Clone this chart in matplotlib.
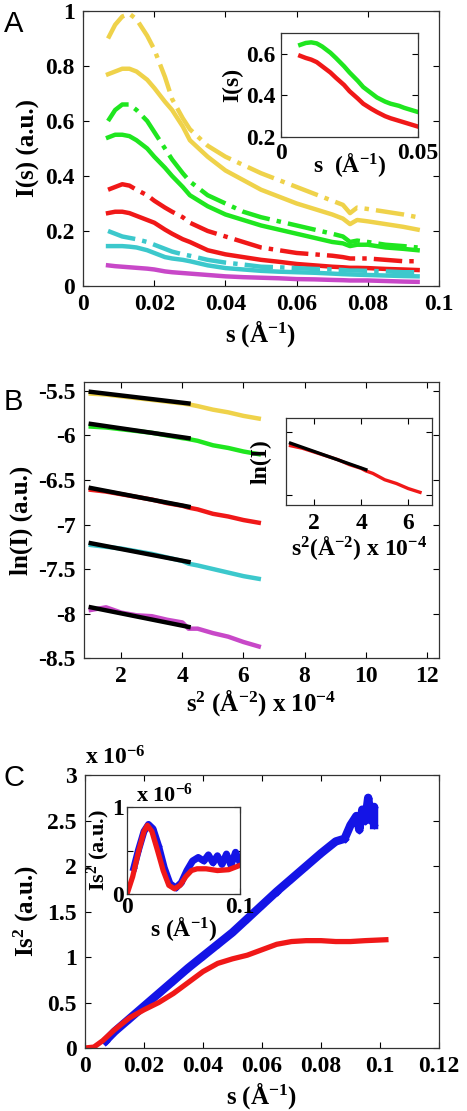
import numpy as np
import matplotlib
matplotlib.use("Agg")
from matplotlib import pyplot as plt

plt.rcParams['font.family'] = 'Liberation Serif'
plt.rcParams['font.weight'] = 'bold'
plt.rcParams['axes.labelweight'] = 'bold'
plt.rcParams['mathtext.fontset'] = 'custom'
plt.rcParams['mathtext.rm'] = 'Liberation Serif:bold'
plt.rcParams['mathtext.bf'] = 'Liberation Serif:bold'
plt.rcParams['mathtext.it'] = 'Liberation Serif:bold'
plt.rcParams['mathtext.default'] = 'bf'

# ---- colours ----
YEL = '#EFD24A'
GRN = '#1FE61F'
RED = '#F01818'
CYA = '#3CC8CC'
MAG = '#C848C8'
BLU = '#1414E6'

# ---- Panel A: I(s) curves ----
s_a = [0.007, 0.009, 0.011, 0.013, 0.015, 0.018, 0.020, 0.023, 0.025, 0.028, 0.030,
       0.035, 0.040, 0.045, 0.050, 0.055, 0.060, 0.065, 0.070, 0.073, 0.075, 0.077,
       0.080, 0.085, 0.090, 0.094]
yel_dash = [0.90, 0.95, 0.98, 0.99, 0.97, 0.91, 0.86, 0.76, 0.68, 0.61, 0.57,
            0.51, 0.47, 0.44, 0.41, 0.385, 0.36, 0.335, 0.31, 0.295, 0.265, 0.285,
            0.28, 0.27, 0.26, 0.25]
yel_sol = [0.77, 0.78, 0.79, 0.79, 0.78, 0.75, 0.72, 0.67, 0.64, 0.58, 0.53,
           0.47, 0.42, 0.385, 0.35, 0.325, 0.30, 0.28, 0.26, 0.245, 0.225, 0.24,
           0.235, 0.225, 0.215, 0.205]
grn_dash = [0.60, 0.64, 0.66, 0.66, 0.64, 0.60, 0.56, 0.50, 0.46, 0.41, 0.38,
            0.33, 0.30, 0.27, 0.25, 0.235, 0.22, 0.205, 0.19, 0.18, 0.16, 0.165,
            0.16, 0.15, 0.145, 0.14]
grn_sol = [0.54, 0.55, 0.55, 0.545, 0.53, 0.50, 0.47, 0.43, 0.40, 0.36, 0.33,
           0.29, 0.26, 0.24, 0.22, 0.205, 0.19, 0.175, 0.16, 0.155, 0.145, 0.15,
           0.15, 0.14, 0.135, 0.13]
red_dash = [0.35, 0.36, 0.37, 0.365, 0.35, 0.33, 0.31, 0.285, 0.27, 0.25, 0.23,
            0.20, 0.18, 0.16, 0.14, 0.13, 0.12, 0.115, 0.11, 0.105, 0.10, 0.10,
            0.10, 0.095, 0.09, 0.09]
red_sol = [0.265, 0.27, 0.27, 0.265, 0.255, 0.24, 0.23, 0.205, 0.19, 0.17, 0.16,
           0.13, 0.115, 0.105, 0.095, 0.088, 0.08, 0.075, 0.07, 0.068, 0.066, 0.066,
           0.065, 0.062, 0.06, 0.058]
cya_dash = [0.20, 0.19, 0.18, 0.175, 0.17, 0.16, 0.15, 0.135, 0.125, 0.115, 0.11,
            0.095, 0.085, 0.078, 0.07, 0.068, 0.065, 0.062, 0.06, 0.058, 0.056, 0.056,
            0.055, 0.053, 0.05, 0.05]
cya_sol = [0.145, 0.145, 0.145, 0.143, 0.14, 0.13, 0.12, 0.105, 0.10, 0.095, 0.09,
           0.075, 0.065, 0.06, 0.055, 0.052, 0.05, 0.048, 0.045, 0.043, 0.042, 0.041,
           0.04, 0.038, 0.036, 0.035]
mag_sol = [0.075, 0.072, 0.07, 0.068, 0.066, 0.063, 0.06, 0.053, 0.05, 0.047, 0.045,
           0.04, 0.035, 0.032, 0.03, 0.028, 0.025, 0.024, 0.022, 0.021, 0.02, 0.02,
           0.02, 0.018, 0.016, 0.015]

# inset A
s_ai = [0.007, 0.009, 0.011, 0.013, 0.015, 0.018, 0.020, 0.023, 0.025, 0.028, 0.030,
        0.033, 0.035, 0.038, 0.040, 0.043, 0.045, 0.048, 0.050]
grn_ai = [0.643, 0.652, 0.655, 0.65, 0.635, 0.605, 0.58, 0.54, 0.51, 0.47, 0.44,
          0.41, 0.39, 0.37, 0.36, 0.35, 0.34, 0.328, 0.32]
red_ai = [0.59, 0.58, 0.572, 0.56, 0.54, 0.51, 0.485, 0.45, 0.42, 0.385, 0.36,
          0.335, 0.32, 0.30, 0.29, 0.278, 0.27, 0.258, 0.25]

# ---- Panel B: Guinier plots ----
s2_b = [1.0, 1.5, 2.0, 2.5, 3.0, 3.5, 4.0, 4.2, 4.5, 5.0, 5.5, 6.0, 6.5]
ln_yel = [-5.53, -5.54, -5.56, -5.58, -5.60, -5.62, -5.64, -5.65, -5.67, -5.71, -5.74, -5.78, -5.81]
ln_grn = [-5.90, -5.91, -5.93, -5.95, -5.97, -6.00, -6.03, -6.04, -6.06, -6.11, -6.14, -6.18, -6.21]
ln_red = [-6.61, -6.63, -6.66, -6.69, -6.72, -6.76, -6.79, -6.81, -6.83, -6.88, -6.91, -6.95, -6.98]
ln_cya = [-7.23, -7.25, -7.27, -7.30, -7.33, -7.37, -7.41, -7.44, -7.46, -7.50, -7.54, -7.58, -7.61]
ln_mag = [-7.96, -7.93, -7.99, -8.02, -8.03, -8.07, -8.10, -8.17, -8.17, -8.22, -8.26, -8.32, -8.37]
fit_x = [1.0, 4.2]
fit_yel = [-5.51, -5.64]
fit_grn = [-5.87, -6.03]
fit_red = [-6.59, -6.80]
fit_cya = [-7.21, -7.42]
fit_mag = [-7.93, -8.15]

# ---- Panel C: Kratky plots (units of 1e-6) ----
s_cb = [0.007, 0.010, 0.015, 0.020, 0.025, 0.030, 0.035, 0.040, 0.045, 0.050, 0.055,
        0.060, 0.065, 0.070, 0.075, 0.080, 0.085, 0.088, 0.090, 0.092, 0.093, 0.094,
        0.095, 0.096, 0.097, 0.098, 0.098]
kr_blue = [0.08, 0.18, 0.32, 0.46, 0.60, 0.74, 0.88, 1.01, 1.14, 1.27, 1.42,
           1.57, 1.72, 1.86, 2.00, 2.14, 2.27, 2.30, 2.45, 2.55, 2.40, 2.62,
           2.50, 2.75, 2.50, 2.65, 2.45]
s_cr = [0.0, 0.003, 0.006, 0.010, 0.015, 0.020, 0.025, 0.030, 0.035, 0.040, 0.045,
        0.050, 0.055, 0.060, 0.065, 0.070, 0.075, 0.080, 0.085, 0.090, 0.095, 0.102]
kr_red = [0.0, 0.01, 0.08, 0.20, 0.33, 0.42, 0.50, 0.60, 0.72, 0.84, 0.93,
          0.98, 1.02, 1.08, 1.14, 1.17, 1.18, 1.18, 1.17, 1.17, 1.18, 1.19]

s_ci_b = [0.006, 0.010, 0.015, 0.019, 0.023, 0.028, 0.033, 0.038, 0.043, 0.048, 0.053,
          0.058, 0.063, 0.068, 0.072, 0.076, 0.080, 0.084, 0.088, 0.092, 0.096, 0.100]
kri_blue = [0.30, 0.50, 0.72, 0.80, 0.75, 0.55, 0.30, 0.12, 0.07, 0.13, 0.27,
            0.38, 0.42, 0.38, 0.45, 0.36, 0.44, 0.34, 0.46, 0.33, 0.48, 0.36]
s_ci_r = [0.0, 0.005, 0.010, 0.015, 0.018, 0.022, 0.027, 0.032, 0.037, 0.042, 0.047,
          0.052, 0.057, 0.062, 0.070, 0.080, 0.090, 0.100]
kri_red = [0.0, 0.20, 0.48, 0.72, 0.79, 0.72, 0.50, 0.27, 0.10, 0.06, 0.10,
           0.20, 0.27, 0.29, 0.29, 0.27, 0.28, 0.33]

FS = 17
LW = 3.2
BOLD = dict(family='Liberation Serif', fontweight='bold')


def style(ax, pad=6):
    ax.tick_params(direction='in', top=True, right=True, length=4, width=0.8, pad=pad)
    for sp in ax.spines.values():
        sp.set_linewidth(0.9)
        sp.set_color('#333333')


def ticks(ax, xt, xl, yt, yl, fs=FS):
    ax.set_xticks(xt)
    ax.set_xticklabels(xl, fontsize=fs, **BOLD)
    ax.set_yticks(yt)
    ax.set_yticklabels(yl, fontsize=fs, **BOLD)


fig = plt.figure(figsize=(4.67, 11.11), dpi=100)

# ===== A =====
axA = fig.add_axes([0.178, 0.7426, 0.762, 0.2475])
for ys, c, ls in [(yel_dash, YEL, '-.'), (yel_sol, YEL, '-'), (grn_dash, GRN, '-.'),
                  (grn_sol, GRN, '-'), (red_dash, RED, '-.'), (red_sol, RED, '-'),
                  (cya_dash, CYA, '-.'), (cya_sol, CYA, '-'), (mag_sol, MAG, '-')]:
    axA.plot(s_a, ys, color=c, ls=ls, lw=LW)
axA.set_xlim(0, 0.1)
axA.set_ylim(0, 1)
style(axA)
ticks(axA, [0, 0.02, 0.04, 0.06, 0.08, 0.1], ['0', '0.02', '0.04', '0.06', '0.08', '0.1'],
      [0, 0.2, 0.4, 0.6, 0.8, 1], ['0', '0.2', '0.4', '0.6', '0.8', '1'])
axA.set_xlabel(r's (Å$^{-1}$)', fontsize=FS + 1, labelpad=2, **BOLD)
axA.set_ylabel('I(s) (a.u.)', fontsize=FS + 1, labelpad=4, **BOLD)

axAi = fig.add_axes([0.602, 0.8767, 0.293, 0.0936])
axAi.plot(s_ai, grn_ai, color=GRN, lw=LW)
axAi.plot(s_ai, red_ai, color=RED, lw=LW)
axAi.set_xlim(0, 0.05)
axAi.set_ylim(0.2, 0.7)
style(axAi, pad=4)
ticks(axAi, [0, 0.05], ['0', '0.05'], [0.2, 0.4, 0.6], ['0.2', '0.4', '0.6'])
axAi.set_xlabel(r's  (Å$^{-1}$)', fontsize=FS, labelpad=-9, **BOLD)
axAi.set_ylabel('I(s)', fontsize=FS, labelpad=2, **BOLD)

# ===== B =====
axB = fig.add_axes([0.180, 0.4077, 0.760, 0.2484])
for ys, c in [(ln_yel, YEL), (ln_grn, GRN), (ln_red, RED), (ln_cya, CYA), (ln_mag, MAG)]:
    axB.plot(s2_b, ys, color=c, lw=LW)
for ys in [fit_yel, fit_grn, fit_red, fit_cya, fit_mag]:
    axB.plot(fit_x, ys, color='black', lw=LW)
axB.set_xlim(0.78, 12.4)
axB.set_ylim(-8.5, -5.4)
style(axB)
ticks(axB, [2, 4, 6, 8, 10, 12], ['2', '4', '6', '8', '10', '12'],
      [-5.5, -6, -6.5, -7, -7.5, -8, -8.5], ['-5.5', '-6', '-6.5', '-7', '-7.5', '-8', '-8.5'])
axB.set_xlabel(r's$^2$ (Å$^{-2}$) x 10$^{-4}$', fontsize=FS + 1, labelpad=0, **BOLD)
axB.set_ylabel('ln(I) (a.u.)', fontsize=FS + 1, labelpad=4, **BOLD)

axBi = fig.add_axes([0.612, 0.5455, 0.3126, 0.0783])
axBi.plot(s2_b, ln_red, color=RED, lw=LW - 0.8)
axBi.plot(fit_x, fit_red, color='black', lw=LW - 0.8)
axBi.set_xlim(0.8, 7.0)
axBi.set_ylim(-7.08, -6.39)
style(axBi)
ticks(axBi, [2, 4, 6], ['2', '4', '6'], [-7.0, -6.5], ['', ''])
axBi.set_xlabel(r's$^2$(Å$^{-2}$) x 10$^{-4}$', fontsize=FS, labelpad=0, **BOLD)
axBi.set_ylabel('ln(I)', fontsize=FS, labelpad=4, **BOLD)

# ===== C =====
axC = fig.add_axes([0.182, 0.0567, 0.758, 0.2457])
axC.plot(s_cb, kr_blue, color=BLU, lw=6, marker='D', ms=3.5)
axC.plot(s_cr, kr_red, color=RED, lw=LW + 0.6)
axC.set_xlim(0, 0.12)
axC.set_ylim(0, 3)
style(axC)
ticks(axC, [0, 0.02, 0.04, 0.06, 0.08, 0.1, 0.12],
      ['0', '0.02', '0.04', '0.06', '0.08', '0.1', '0.12'],
      [0, 0.5, 1, 1.5, 2, 2.5, 3], ['0', '0.5', '1', '1.5', '2', '2.5', '3'])
axC.set_xlabel(r's (Å$^{-1}$)', fontsize=FS + 1, labelpad=2, **BOLD)
axC.set_ylabel(r'Is$^2$ (a.u.)', fontsize=FS + 1, labelpad=4, **BOLD)
axC.text(0.0, 1.02, r'x 10$^{-6}$', transform=axC.transAxes, fontsize=FS,
         ha='left', va='bottom', **BOLD)

axCi = fig.add_axes([0.272, 0.1953, 0.242, 0.0783])
axCi.plot(s_ci_b, kri_blue, color=BLU, lw=5, marker='D', ms=2.5)
axCi.plot(s_ci_r, kri_red, color=RED, lw=LW + 0.6)
axCi.set_xlim(0, 0.1)
axCi.set_ylim(0, 1)
style(axCi, pad=2)
ticks(axCi, [0, 0.1], ['0', '0.1'], [0, 0.5, 1], ['0', '', '1'])
axCi.set_xlabel(r's (Å$^{-1}$)', fontsize=FS, labelpad=-2, **BOLD)
axCi.set_ylabel(r'Is$^2$ (a.u.)', fontsize=FS - 1, labelpad=0, **BOLD)
axCi.text(0.08, 1.0, r'x 10$^{-6}$', transform=axCi.transAxes, fontsize=FS - 1,
          ha='left', va='bottom', **BOLD)

# panel letters
for lab, yy in [('A', 0.978), ('B', 0.638), ('C', 0.300)]:
    fig.text(0.008, yy, lab, fontsize=21, family='Liberation Sans',
             fontweight='normal', va='center', ha='left')

fig.savefig('out.png', dpi=100)
